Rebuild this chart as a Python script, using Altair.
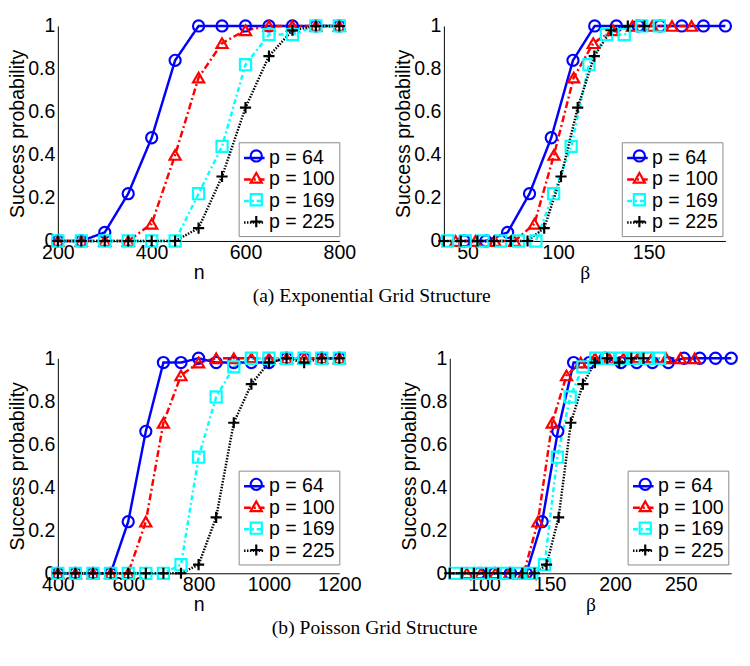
import altair as alt
import pandas as pd

# ---------------- data ----------------
P_LABELS = ["p = 64", "p = 100", "p = 169", "p = 225"]
COLORS = ["#0000ff", "#ff0000", "#00ffff", "#000000"]

# (a) Exponential grid structure
N_A = [200, 250, 300, 350, 400, 450, 500, 550, 600, 650, 700, 750, 800]
SUCC_A_64 = [0, 0, 0.04, 0.22, 0.48, 0.84, 1, 1, 1, 1, 1, 1, 1]
SUCC_A_100 = [0, 0, 0, 0, 0.08, 0.40, 0.76, 0.92, 0.98, 1, 1, 1, 1]
SUCC_A_169 = [0, 0, 0, 0, 0, 0, 0.22, 0.44, 0.82, 0.96, 0.96, 1, 1]
SUCC_A_225 = [0, 0, 0, 0, 0, 0, 0.06, 0.30, 0.62, 0.86, 0.98, 1, 1]
BETA_A_64 = [48.1, 60.1, 72.1, 84.2, 96.2, 108.2, 120.2, 132.2, 144.3, 156.3, 168.3, 180.3, 192.4]
BETA_A_100 = [43.4, 54.3, 65.1, 76.0, 86.9, 97.7, 108.6, 119.4, 130.3, 141.1, 152.0, 162.9, 173.7]
BETA_A_169 = [39.0, 48.7, 58.5, 68.2, 78.0, 87.7, 97.5, 107.2, 117.0, 126.7, 136.5, 146.2, 155.9]
BETA_A_225 = [36.9, 46.2, 55.4, 64.6, 73.9, 83.1, 92.3, 101.6, 110.8, 120.0, 129.2, 138.5, 147.7]

# (b) Poisson grid structure
N_B = [400, 450, 500, 550, 600, 650, 700, 750, 800, 850, 900, 950, 1000, 1050, 1100, 1150, 1200]
SUCC_B_64 = [0, 0, 0, 0, 0.24, 0.66, 0.98, 0.98, 1, 0.98, 0.98, 0.98, 0.98, 1, 1, 1, 1]
SUCC_B_100 = [0, 0, 0, 0, 0, 0.24, 0.70, 0.92, 0.98, 1, 1, 1, 1, 1, 1, 1, 1]
SUCC_B_169 = [0, 0, 0, 0, 0, 0, 0, 0.04, 0.54, 0.82, 0.96, 1, 1, 1, 1, 1, 1]
SUCC_B_225 = [0, 0, 0, 0, 0, 0, 0, 0, 0.04, 0.26, 0.70, 0.88, 0.98, 1, 0.98, 1, 1]
BETA_B_64 = [96.2, 108.2, 120.2, 132.2, 144.3, 156.3, 168.3, 180.3, 192.4, 204.4, 216.4, 228.4,
             240.5, 252.5, 264.5, 276.5, 288.5]
BETA_B_100 = [86.9, 97.7, 108.6, 119.4, 130.3, 141.1, 152.0, 162.9, 173.7, 184.6, 195.4, 206.3,
              217.1, 228.0, 238.9, 249.7, 260.6]
BETA_B_169 = [78.0, 87.7, 97.5, 107.2, 117.0, 126.7, 136.5, 146.2, 155.9, 165.7, 175.4, 185.2,
              194.9, 204.7, 214.4, 224.2, 233.9]
BETA_B_225 = [73.9, 83.1, 92.3, 101.6, 110.8, 120.0, 129.2, 138.5, 147.7, 156.9, 166.2, 175.4,
              184.6, 193.9, 203.1, 212.3, 221.6]

X_TICKS_A_N = [200, 400, 600, 800]
X_TICKS_A_B = [50, 100, 150]
X_TICKS_B_N = [400, 600, 800, 1000, 1200]
X_TICKS_B_B = [100, 150, 200, 250]
Y_TICKS = [0, 0.2, 0.4, 0.6, 0.8, 1]

CAPTION_A = "(a) Exponential Grid Structure"
CAPTION_B = "(b) Poisson Grid Structure"

# ---------------- styling ----------------
DASHES = [[1, 0], [7, 3, 2, 3], [5, 3, 2, 3], [1.5, 1.5]]
WIDTHS = [2.5, 2.5, 2.5, 1.2]
SHAPES = ["circle", "triangle-up", "square", "M-1,0L1,0M0,-1L0,1"]
SANS = "Liberation Sans"
SERIF = "Liberation Serif"
W, H = 288, 220
ROW_H = 22.4


def build_frame(n, succ_lists, beta_lists):
    rows = []
    for lab, s_list, b_list in zip(P_LABELS, succ_lists, beta_lists):
        for nv, sv, bv in zip(n, s_list, b_list):
            rows.append({"n": nv, "beta": bv, "succ": sv, "series": lab})
    return pd.DataFrame(rows)


DF_A = build_frame(N_A, [SUCC_A_64, SUCC_A_100, SUCC_A_169, SUCC_A_225],
                   [BETA_A_64, BETA_A_100, BETA_A_169, BETA_A_225])
DF_B = build_frame(N_B, [SUCC_B_64, SUCC_B_100, SUCC_B_169, SUCC_B_225],
                   [BETA_B_64, BETA_B_100, BETA_B_169, BETA_B_225])


def panel(df, xfield, xdomain, xticks, xtitle, xtitle_font, lx, ly):
    base = alt.Chart(df)
    x_enc = alt.X(f"{xfield}:Q",
                  scale=alt.Scale(domain=xdomain, nice=False, zero=False),
                  axis=alt.Axis(values=xticks, title=xtitle, titleFont=xtitle_font,
                                format="d", labelFlush=False, labelPadding=2,
                                titlePadding=0))
    y_enc = alt.Y("succ:Q", scale=alt.Scale(domain=[0, 1], nice=False),
                  axis=alt.Axis(values=Y_TICKS, format="~g", title="Success probability",
                                labelPadding=3, titlePadding=0))
    leg_line = alt.Legend(orient="none", legendX=lx, legendY=ly, title=None,
                          symbolType="stroke", symbolSize=441, symbolStrokeWidth=2.5,
                          labelFont=SANS, labelFontSize=20, labelOffset=3,
                          strokeColor="#888888", padding=4, rowPadding=0)
    lines = base.mark_line().encode(
        x=x_enc, y=y_enc,
        stroke=alt.Stroke("series:N", scale=alt.Scale(domain=P_LABELS, range=COLORS),
                          legend=leg_line),
        strokeDash=alt.StrokeDash("series:N", scale=alt.Scale(domain=P_LABELS, range=DASHES),
                                  legend=leg_line),
        strokeWidth=alt.StrokeWidth("series:O", scale=alt.Scale(domain=P_LABELS, range=WIDTHS),
                                    legend=None),
    )
    layers = [lines]
    for i, (lab, col, shp) in enumerate(zip(P_LABELS, COLORS, SHAPES)):
        leg_pt = alt.Legend(orient="none", legendX=lx + 4, legendY=ly + i * ROW_H, title=None,
                            symbolSize=130, symbolStrokeWidth=2.2,
                            labelFont=SANS, labelFontSize=20, labelOffset=3,
                            labelColor="transparent", padding=4, rowPadding=0)
        pts = base.transform_filter(alt.datum.series == lab).mark_point(
            filled=False, size=130, strokeWidth=2.2, opacity=1, color=col
        ).encode(
            x=x_enc, y=y_enc,
            shape=alt.Shape("series:N", scale=alt.Scale(domain=[lab], range=[shp]),
                            legend=leg_pt),
        )
        layers.append(pts)
    return alt.layer(*layers).resolve_scale(shape="independent").resolve_legend(
        shape="independent").properties(width=W, height=H)


IND = dict(strokeDash="independent", strokeWidth="independent",
           shape="independent", stroke="independent")
IND_L = dict(strokeDash="independent", shape="independent", stroke="independent")


def caption(text):
    return alt.Title(text, orient="bottom", anchor="middle", font=SERIF, fontSize=20,
                     fontWeight="normal", color="black", offset=4)


row_a = alt.hconcat(
    panel(DF_A, "n", [200, 800], X_TICKS_A_N, "n", SANS, 185, 119),
    panel(DF_A, "beta", [36.9, 192.4], X_TICKS_A_B, "β", SERIF, 182, 119),
    spacing=39,
).resolve_scale(**IND).resolve_legend(**IND_L).properties(title=caption(CAPTION_A))

row_b = alt.hconcat(
    panel(DF_B, "n", [400, 1200], X_TICKS_B_N, "n", SANS, 185, 115),
    panel(DF_B, "beta", [73.9, 288.5], X_TICKS_B_B, "β", SERIF, 182, 115),
    spacing=39,
).resolve_scale(**IND).resolve_legend(**IND_L).properties(title=caption(CAPTION_B))

chart = alt.vconcat(row_a, row_b, spacing=43).resolve_scale(**IND).resolve_legend(**IND_L)

chart = chart.properties(padding={"left": 0, "top": 0, "right": 0, "bottom": 0}).configure_axis(
    labelFont=SANS, labelFontSize=20, titleFont=SANS, titleFontSize=20,
    titleFontWeight="normal", labelColor="black", titleColor="black",
    domainColor="black", domainWidth=1, ticks=False, grid=False,
).configure_view(stroke=None).configure_title(fontWeight="normal")

chart.save("out.html", embed_options={"renderer": "svg", "actions": False})
